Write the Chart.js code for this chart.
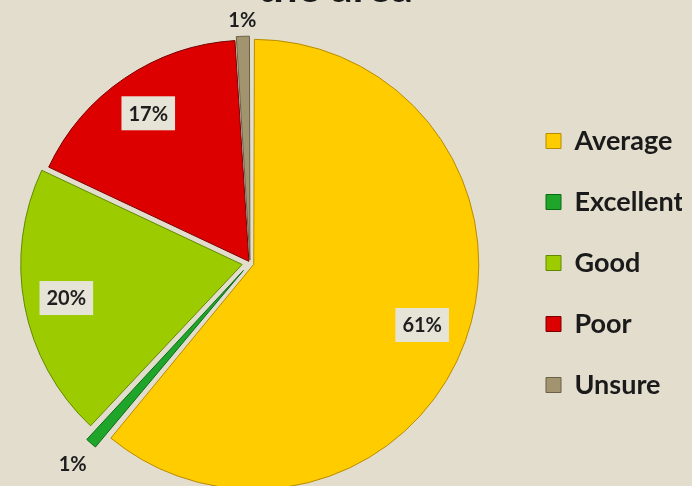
<!DOCTYPE html>
<html>
<head>
<meta charset="utf-8">
<script src="https://cdn.jsdelivr.net/npm/chart.js@4.4.1/dist/chart.umd.min.js"></script>
<style>
  html, body { margin: 0; padding: 0; background: #e2ddcd; overflow: hidden; }
  #wrap { position: relative; width: 692px; height: 486px; overflow: hidden; background: #e2ddcd; }
  #chart { position: absolute; left: -12px; top: -40px; }
</style>
</head>
<body>
<div id="wrap"><canvas id="chart" width="694" height="526"></canvas></div>
<script>
// Survey answers: how people rate the area
const titleText = 'the area';
const categories = ['Average', 'Excellent', 'Good', 'Poor', 'Unsure'];
const shares = [61, 1, 20, 17, 1];

const sliceColors = ['#ffcc00', '#1fa52a', '#9ccc00', '#dd0000', '#a39470'];
const edgeColors  = ['#b88a00', '#0b6a14', '#628800', '#7a0000', '#6b5f45'];

// Percentage labels: boxed inside big slices, plain text outside thin ones
const sliceLabels = {
  id: 'sliceLabels',
  afterDatasetsDraw(chart, args, opts) {
    const meta = chart.getDatasetMeta(0);
    const values = chart.data.datasets[0].data;
    const total = values.reduce((a, b) => a + b, 0);
    const ctx = chart.ctx;
    ctx.save();
    ctx.font = 'bold 20px Lato';
    ctx.textAlign = 'center';
    ctx.textBaseline = 'middle';
    meta.data.forEach((arc, i) => {
      const p = arc.getProps(['x', 'y', 'startAngle', 'endAngle', 'outerRadius'], true);
      const mid = (p.startAngle + p.endAngle) / 2;
      const shift = (arc.options.offset || 0) / 4;
      const text = Math.round(values[i] / total * 100) + '%';
      const gap = opts.outsideGap[i];
      const dist = gap != null ? p.outerRadius + shift + gap : p.outerRadius * opts.insideRatio + shift;
      const x = p.x + Math.cos(mid) * dist;
      const y = p.y + Math.sin(mid) * dist;
      if (gap == null) {
        const w = ctx.measureText(text).width + 14;
        const h = 34;
        ctx.fillStyle = '#e6e3d7';
        ctx.fillRect(x - w / 2, y - h / 2, w, h);
      }
      ctx.fillStyle = '#1e1e1e';
      ctx.fillText(text, x, y + 1);
    });
    ctx.restore();
  }
};

new Chart(document.getElementById('chart'), {
  type: 'pie',
  data: {
    labels: categories,
    datasets: [{
      data: shares,
      backgroundColor: sliceColors,
      borderColor: edgeColors,
      borderWidth: 1,
      offset: [16, 40, 32, 8, 12]
    }]
  },
  options: {
    responsive: false,
    maintainAspectRatio: false,
    devicePixelRatio: 1,
    animation: false,
    radius: 221,
    layout: { padding: 0 },
    plugins: {
      title: {
        display: true,
        text: titleText,
        color: '#1a1a1a',
        font: { family: 'Lato', size: 43, weight: 'bold' },
        padding: { top: 2, bottom: 26.4 }
      },
      legend: {
        position: 'right',
        fullSize: false,
        maxWidth: 170,
        align: 'center',
        labels: {
          boxWidth: 15,
          boxHeight: 15,
          padding: 34,
          color: '#1a1a1a',
          font: { family: 'Lato', size: 27, weight: 'bold' }
        }
      },
      tooltip: { enabled: false },
      sliceLabels: {
        insideRatio: 0.81,
        outsideGap: { 1: 37, 4: 20 }
      }
    }
  },
  plugins: [sliceLabels]
});
</script>
</body>
</html>
